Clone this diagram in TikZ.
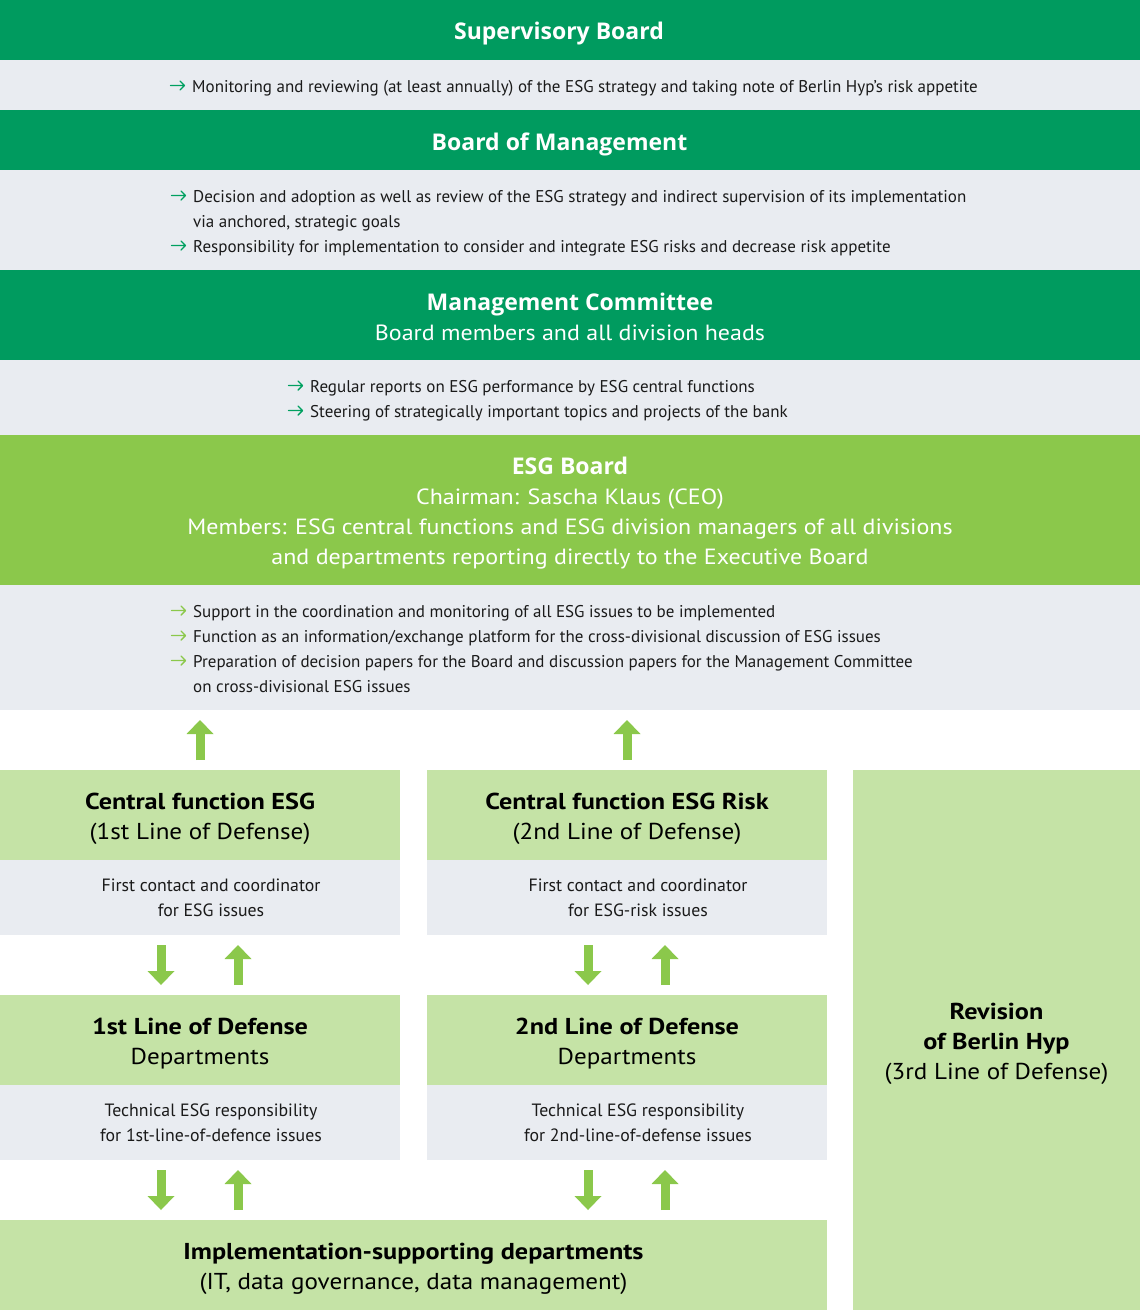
\documentclass[tikz,border=0pt]{standalone}
\usepackage{fontspec}
\setmainfont{PT Sans}
\newfontfamily\titlefont{Open Sans}
\newfontfamily\headfont{PT Sans}[FakeStretch=1.09,BoldFeatures={FakeStretch=1.14}]
\usetikzlibrary{arrows.meta,calc}
\definecolor{dgreen}{HTML}{009B5F}
\definecolor{lgreen}{HTML}{8BC84B}
\definecolor{pgreen}{HTML}{C5E3A6}
\definecolor{lgray}{HTML}{E9ECF1}
\definecolor{ink}{HTML}{1A1A1A}
\definecolor{tgreen}{HTML}{00A060}
\newcommand\arrowmark[1]{\llap{\tikz[x=1pt,y=1pt,baseline=0pt]{\draw[#1,line width=1.4pt,line cap=round,line join=round] (0,6.5)--(14,6.5) (9.5,11)--(14,6.5)--(9.5,2);}\hspace{7pt}}}
\newcommand\bul{\arrowmark{tgreen}}
\newcommand\gbul{\arrowmark{lgreen}}
\newcommand\subline{\normalfont\headfont\fontsize{22}{30}\selectfont}
\begin{document}
\begin{tikzpicture}[x=1pt,y=-1pt,
  band/.style 2 args={anchor=north west,inner sep=0,outer sep=0,minimum width=#1,minimum height=#2,draw=none},
  wtitle/.style={inner sep=0,text=white,align=center,font=\titlefont\bfseries\fontsize{23}{30}\selectfont},
  body/.style={inner sep=0,text=ink,align=left,anchor=base west,font=\fontsize{17}{25}\selectfont},
  colhead/.style={inner sep=0,text=black,align=center,font=\headfont\fontsize{23}{30}\selectfont},
  coltext/.style={inner sep=0,text=ink,align=center,font=\fontsize{17.8}{25}\selectfont},
  bigarrow/.style={draw=lgreen,line width=9pt,-{Triangle[width=27pt,length=14pt,line width=0pt]}}]
\useasboundingbox (0,0) rectangle (1140,1310);
% top bands
\node[band={1140pt}{60pt},fill=dgreen] (sb) at (0,0) {};
\node[wtitle] (sbl) at (559,34) {Supervisory Board};
\node[band={1140pt}{50pt},fill=lgray] (sbt) at (0,60) {};
\node[body] (sbtx) at (192,92) {\bul Monitoring and reviewing (at least annually) of the ESG strategy and taking note of Berlin Hyp’s risk appetite};
\node[band={1140pt}{60pt},fill=dgreen] (bom) at (0,110) {};
\node[wtitle] (boml) at (559.5,144) {Board of Management};
\node[band={1140pt}{100pt},fill=lgray] (bomt) at (0,170) {};
\node[body] (bomtx) at (193,252) {\bul Decision and adoption as well as review of the ESG strategy and indirect supervision of its implementation\\via anchored, strategic goals\\\bul Responsibility for implementation to consider and integrate ESG risks and decrease risk appetite};
\node[band={1140pt}{90pt},fill=dgreen] (mc) at (0,270) {};
\node[wtitle] (mcl) at (570,317) {Management Committee\\\subline Board members and all division heads};
\node[band={1140pt}{75pt},fill=lgray] (mct) at (0,360) {};
\node[body] (mctx) at (310,417) {\bul Regular reports on ESG performance by ESG central functions\\\bul Steering of strategically important topics and projects of the bank};
\node[band={1140pt}{150pt},fill=lgreen] (esg) at (0,435) {};
\node[wtitle] (esgl) at (570,513) {ESG Board\\\subline Chairman: Sascha Klaus (CEO)\\\subline Members: ESG central functions and ESG division managers of all divisions\\\subline and departments reporting directly to the Executive Board};
\node[band={1140pt}{125pt},fill=lgray] (esgt) at (0,585) {};
\node[body] (esgtx) at (193,692) {\gbul Support in the coordination and monitoring of all ESG issues to be implemented\\\gbul Function as an information/exchange platform for the cross-divisional discussion of ESG issues\\\gbul Preparation of decision papers for the Board and discussion papers for the Management Committee\\on cross-divisional ESG issues};
% columns
\node[band={400pt}{90pt},fill=pgreen] (cf1) at (0,770) {};
\node[colhead] (cf1l) at (200,819) {\bfseries Central function ESG\\(1st Line of Defense)};
\node[band={400pt}{75pt},fill=lgray] (cf1t) at (0,860) {};
\node[coltext] (cf1tx) at (211,898) {First contact and coordinator\\for ESG issues};
\node[band={400pt}{90pt},fill=pgreen] (l1) at (0,995) {};
\node[colhead] (l1l) at (200,1044) {\bfseries 1st Line of Defense\\Departments};
\node[band={400pt}{75pt},fill=lgray] (l1t) at (0,1085) {};
\node[coltext] (l1tx) at (211,1123) {Technical ESG responsibility\\for 1st-line-of-defence issues};
\node[band={400pt}{90pt},fill=pgreen] (cf2) at (427,770) {};
\node[colhead] (cf2l) at (627,819) {\bfseries Central function ESG Risk\\(2nd Line of Defense)};
\node[band={400pt}{75pt},fill=lgray] (cf2t) at (427,860) {};
\node[coltext] (cf2tx) at (638,898) {First contact and coordinator\\for ESG-risk issues};
\node[band={400pt}{90pt},fill=pgreen] (l2) at (427,995) {};
\node[colhead] (l2l) at (627,1044) {\bfseries 2nd Line of Defense\\Departments};
\node[band={400pt}{75pt},fill=lgray] (l2t) at (427,1085) {};
\node[coltext] (l2tx) at (638,1123) {Technical ESG responsibility\\for 2nd-line-of-defense issues};
\node[band={827pt}{90pt},fill=pgreen] (impl) at (0,1220) {};
\node[colhead] (impll) at (413.5,1269) {\bfseries Implementation-supporting departments\\(IT, data governance, data management)};
\node[band={287pt}{540pt},fill=pgreen] (rev) at (853,770) {};
\node[colhead] (revl) at (996.5,1044) {\bfseries Revision\\\bfseries of Berlin Hyp\\(3rd Line of Defense)};
% arrows
\draw[bigarrow] ([yshift=10pt]cf1.north) -- ([yshift=-10pt]cf1.north |- esgt.south);
\draw[bigarrow] ([yshift=10pt]cf2.north) -- ([yshift=-10pt]cf2.north |- esgt.south);
\draw[bigarrow] ($(cf1t.south)+(-39,10)$) -- ($(l1.north)+(-39,-10)$);
\draw[bigarrow] ($(l1.north)+(38,-10)$) -- ($(cf1t.south)+(38,10)$);
\draw[bigarrow] ($(cf2t.south)+(-39,10)$) -- ($(l2.north)+(-39,-10)$);
\draw[bigarrow] ($(l2.north)+(38,-10)$) -- ($(cf2t.south)+(38,10)$);
\draw[bigarrow] ($(l1t.south)+(-39,10)$) -- ($(l1t.south |- impl.north)+(-39,-10)$);
\draw[bigarrow] ($(l1t.south |- impl.north)+(38,-10)$) -- ($(l1t.south)+(38,10)$);
\draw[bigarrow] ($(l2t.south)+(-39,10)$) -- ($(l2t.south |- impl.north)+(-39,-10)$);
\draw[bigarrow] ($(l2t.south |- impl.north)+(38,-10)$) -- ($(l2t.south)+(38,10)$);
\end{tikzpicture}
\end{document}
